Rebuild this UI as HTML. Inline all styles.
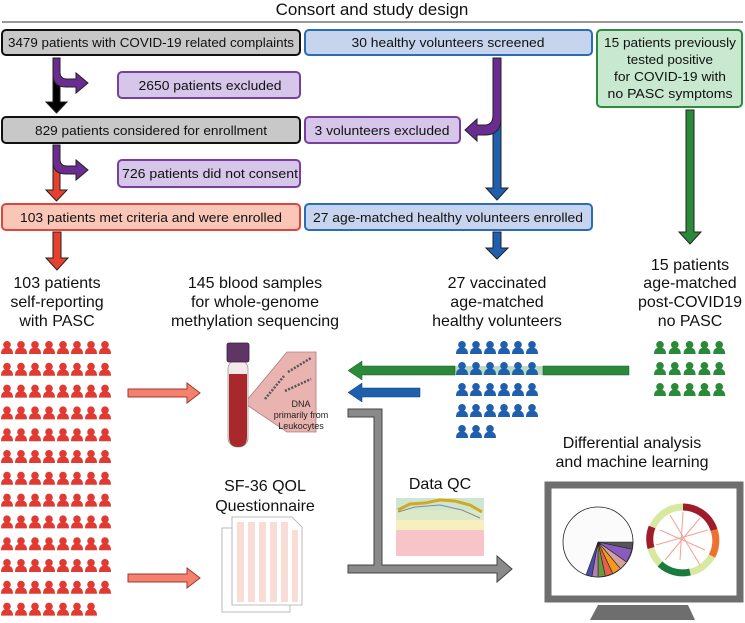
<!DOCTYPE html>
<html><head><meta charset="utf-8"><style>
html,body{margin:0;padding:0;background:#fff;}
svg{display:block;font-family:"Liberation Sans",Arial,sans-serif;}
</style></head><body>
<svg id="s" width="745" height="623" viewBox="0 0 745 623" xmlns="http://www.w3.org/2000/svg">
<defs>
<g id="person"><circle cx="6" cy="3.8" r="3.8"/><path d="M0,13 C0,8 2.5,6.6 6,6.6 C9.5,6.6 12,8 12,13 Z"/></g>
</defs>
<text x="372" y="15" font-size="17" text-anchor="middle" fill="#111">Consort and study design</text>
<line x1="2" y1="22" x2="743" y2="22" stroke="#333" stroke-width="1"/>

<g font-size="13" text-anchor="middle" fill="#111">
<rect x="2" y="30" width="298" height="25" rx="4" fill="#c8c8c8" stroke="#111" stroke-width="2"/>
<text x="151" y="47" textLength="286" lengthAdjust="spacingAndGlyphs">3479 patients with COVID-19 related complaints</text>
<rect x="305" y="30" width="287" height="25" rx="4" fill="#c7d4ee" stroke="#2a6db5" stroke-width="2"/>
<text x="448" y="47" textLength="193" lengthAdjust="spacingAndGlyphs">30 healthy volunteers screened</text>
<rect x="597" y="30" width="145" height="77" rx="4" fill="#c8e8d0" stroke="#2e8b3e" stroke-width="2"/>
<text x="670" y="47" textLength="132" lengthAdjust="spacingAndGlyphs">15 patients previously</text>
<text x="670" y="64" textLength="86" lengthAdjust="spacingAndGlyphs">tested positive</text>
<text x="670" y="81" textLength="112" lengthAdjust="spacingAndGlyphs">for COVID-19 with</text>
<text x="670" y="98" textLength="125" lengthAdjust="spacingAndGlyphs">no PASC symptoms</text>

<rect x="118" y="72" width="182" height="26" rx="4" fill="#d5c6ea" stroke="#7a3e9d" stroke-width="2"/>
<text x="210" y="90" textLength="143" lengthAdjust="spacingAndGlyphs">2650 patients excluded</text>

<rect x="2" y="117" width="298" height="26" rx="4" fill="#c8c8c8" stroke="#111" stroke-width="2"/>
<text x="151" y="135" textLength="232" lengthAdjust="spacingAndGlyphs">829 patients considered for enrollment</text>
<rect x="305" y="117" width="155" height="26" rx="4" fill="#d5c6ea" stroke="#7a3e9d" stroke-width="2"/>
<text x="382" y="135" textLength="135" lengthAdjust="spacingAndGlyphs">3 volunteers excluded</text>

<rect x="118" y="160" width="182" height="27" rx="4" fill="#d5c6ea" stroke="#7a3e9d" stroke-width="2"/>
<text x="210" y="178" textLength="176" lengthAdjust="spacingAndGlyphs">726 patients did not consent</text>

<rect x="2" y="204" width="298" height="26" rx="4" fill="#f9c6b8" stroke="#e0463a" stroke-width="2"/>
<text x="151" y="222" textLength="262" lengthAdjust="spacingAndGlyphs">103 patients met criteria and were enrolled</text>
<rect x="305" y="204" width="287" height="26" rx="4" fill="#c7d4ee" stroke="#2a6db5" stroke-width="2"/>
<text x="448" y="222" textLength="270" lengthAdjust="spacingAndGlyphs">27 age-matched healthy volunteers enrolled</text>
</g>

<g stroke="#222" stroke-width="1">
<path d="M53,58 H60 V102 H67 L56.5,113 L46,102 H53 Z" fill="#000"/>
<path d="M53,58 H60 V72 Q60,79 67,79 H76 V73 L88,83 L76,93 V87 H66 Q53,87 53,75 Z" fill="#6a2c91"/>
<path d="M53,145 H60 V190 H67 L56.5,201 L46,190 H53 Z" fill="#e8402e"/>
<path d="M53,145 H60 V159 Q60,166 67,166 H76 V160 L88,170 L76,180 V174 H66 Q53,174 53,162 Z" fill="#6a2c91"/>
<path d="M493,58 H501 V188 H508 L497,200 L486,188 H493 Z" fill="#1f5fae"/>
<path d="M493,58 H501 V118 Q501,135 485,135 H477 V141 L465,130 L477,119 V125 H485 Q493,125 493,115 Z" fill="#6a2c91"/>
<path d="M686,110 H694 V232 H701 L690,244 L679,232 H686 Z" fill="#2a8a3a"/>
<path d="M53,232 H61 V258 H68 L57,270 L46,258 H53 Z" fill="#e8402e"/>
<path d="M493,232 H501 V248 H508 L497,259 L486,248 H493 Z" fill="#1f5fae"/>
</g>

<g font-size="16" text-anchor="middle" fill="#111">
<text x="57" y="288">103 patients</text><text x="57" y="307">self-reporting</text><text x="57" y="326">with PASC</text>
<text x="255" y="288">145 blood samples</text><text x="255" y="307">for whole-genome</text><text x="255" y="326">methylation sequencing</text>
<text x="497" y="288">27 vaccinated</text><text x="497" y="307">age-matched</text><text x="497" y="326">healthy volunteers</text>
<text x="690" y="270">15 patients</text><text x="690" y="288">age-matched</text><text x="690" y="307">post-COVID19</text><text x="690" y="326">no PASC</text>
<text x="265" y="491">SF-36 QOL</text><text x="265" y="511">Questionnaire</text>
<text x="440" y="489">Data QC</text>
<text x="632" y="448">Differential analysis</text><text x="632" y="467">and machine learning</text>
</g>

<rect x="455" y="366" width="88" height="9" fill="#b9dcc4"/>
<g id="people"></g>

<path d="M629,366 V375 H543 V366 Z" fill="#2a8a3a" stroke="#1a5a28" stroke-width="0.5"/>
<path d="M455,366 V375 H362 V380 L348,370.5 L362,361 V366 Z" fill="#2a8a3a" stroke="#1a5a28" stroke-width="0.5"/>
<path d="M420,388 V397 H362 V402 L348,392.5 L362,383 V388 Z" fill="#1f5fae" stroke="#0f3a70" stroke-width="0.5"/>

<path d="M128,389 H187 V383 L200,393 L187,403 V397 H128 Z" fill="#f6806e" stroke="#9a3a30" stroke-width="1"/>
<path d="M128,574 H187 V568 L200,578 L187,588 V582 H128 Z" fill="#f6806e" stroke="#9a3a30" stroke-width="1"/>

<path d="M247,400 L287,352 H316 V432 H287 L247,405 Z" fill="#e9b3b0" stroke="#b07c7c" stroke-width="0.8"/>
<rect x="228" y="360" width="20" height="87" rx="9" fill="#f4e8ea" stroke="#999" stroke-width="0.8"/>
<path d="M229,374 H247 V437 Q247,447 238,447 Q229,447 229,437 Z" fill="#a8282c"/>
<rect x="227" y="343" width="22" height="19" rx="2" fill="#5e3564" stroke="#3a1f40" stroke-width="0.8"/>
<g stroke="#555" stroke-width="2.5" stroke-dasharray="2 1.5" fill="none">
<path d="M265,399 L284,376"/><path d="M288,372 L311,358"/><path d="M285,391 L311,379"/>
</g>
<g font-size="9" text-anchor="middle" fill="#222">
<text x="301" y="407">DNA</text><text x="301" y="418">primarily from</text><text x="301" y="429">Leukocytes</text>
</g>

<path d="M348,409 H382 V565 H497 V556 L512,569 L497,582 V573 H348 V565 H374 V417 H348 Z" fill="#8a8a8a" stroke="#444" stroke-width="1"/>

<g>
<rect x="222" y="528" width="68" height="84" fill="#fff" stroke="#aaa" stroke-width="0.8"/>
<path d="M232,517 H292 L302,527 V605 H232 Z" fill="#fff" stroke="#aaa" stroke-width="0.8"/>
<g fill="#fadcd6"><rect x="237" y="522" width="7" height="80"/><rect x="248" y="522" width="7" height="80"/><rect x="259" y="522" width="7" height="80"/><rect x="270" y="522" width="7" height="80"/><rect x="281" y="522" width="7" height="80"/><rect x="292" y="530" width="6" height="72"/></g>
</g>

<g>
<rect x="396" y="498" width="88" height="12" fill="#cde6d2"/>
<rect x="396" y="510" width="88" height="10" fill="#dbe9c8"/>
<rect x="396" y="520" width="88" height="10" fill="#f7efbe"/>
<rect x="396" y="530" width="88" height="26" fill="#f7c5c8"/>
<path d="M398,510 L410,504 L425,503 L440,500 L455,501 L470,505 L482,512" stroke="#d4a820" stroke-width="3" fill="none"/>
<path d="M398,512 L415,507 L440,505 L462,510 L480,518" stroke="#888" stroke-width="1" fill="none"/>
</g>

<rect x="548" y="485" width="192" height="114" fill="#fff" stroke="#6e6e6e" stroke-width="7"/>
<path d="M598,605 H688 L695,620 H590 Z" fill="#6e6e6e"/>
<circle cx="598" cy="542" r="35" fill="#fbfbfb" stroke="#222" stroke-width="0.8"/>
<g stroke="#222" stroke-width="0.6">
<path d="M598,542 L633,542 L632.2,549.3 Z" fill="#555"/>
<path d="M598,542 L632.2,549.3 L626.7,562.1 Z" fill="#8a5cc0"/>
<path d="M598,542 L626.7,562.1 L620.5,568.8 Z" fill="#d4a0a0"/>
<path d="M598,542 L620.5,568.8 L612.8,573.7 Z" fill="#f39a1e"/>
<path d="M598,542 L612.8,573.7 L605.3,576.2 Z" fill="#e8604a"/>
<path d="M598,542 L605.3,576.2 L598,577 Z" fill="#6a9a40"/>
<path d="M598,542 L598,577 L591.9,576.5 Z" fill="#b77fb0"/>
<path d="M598,542 L591.9,576.5 L586,574.9 Z" fill="#4a4fa6"/>
</g>
<circle cx="683" cy="540" r="33" fill="none" stroke="#d8e8a0" stroke-width="7"/>
<path d="M683,507 A33,33 0 0 1 714,530" fill="none" stroke="#a01c2c" stroke-width="7"/>
<path d="M714,530 A33,33 0 0 1 712,556" fill="none" stroke="#f07030" stroke-width="7"/>
<path d="M660,564 A33,33 0 0 0 690,572" fill="none" stroke="#1a7a40" stroke-width="7"/>
<path d="M651,548 A33,33 0 0 1 652,527" fill="none" stroke="#a01c2c" stroke-width="7"/>
<g stroke="#f5a09a" stroke-width="1"><path d="M683,512 L680,560"/><path d="M660,530 L705,550"/><path d="M670,515 L700,565"/><path d="M700,518 L665,560"/><path d="M656,545 L708,530"/></g>
</svg>
<script>
var g=document.getElementById('people'),NS='http://www.w3.org/2000/svg';
function grid(x0,y0,cols,n,dx,dy,col){for(var i=0;i<n;i++){var u=document.createElementNS(NS,'use');u.setAttribute('href','#person');u.setAttribute('x',x0+(i%cols)*dx);u.setAttribute('y',y0+Math.floor(i/cols)*dy);u.setAttribute('fill',col);g.appendChild(u);}}
grid(1,341,8,103,14,21.8,'#e03a32');
grid(456,341,6,27,14,21,'#1f5fae');
grid(654,341,5,15,14.8,21,'#2a8a3a');
</script>
</body></html>
